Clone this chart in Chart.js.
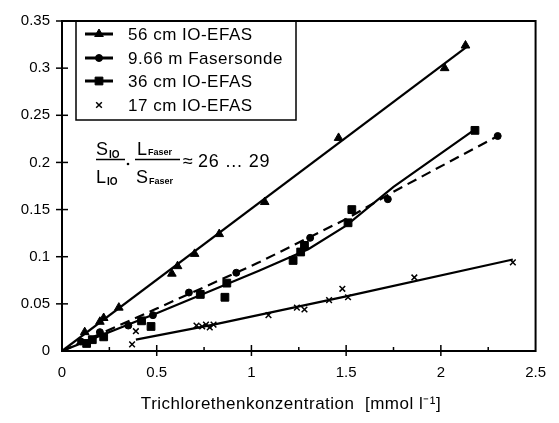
<!DOCTYPE html>
<html>
<head>
<meta charset="utf-8">
<script src="https://cdn.jsdelivr.net/npm/chart.js@4"></script>
<style>
  body { margin: 0; background: #fff; }
  #wrap { width: 559px; height: 423px; }
</style>
</head>
<body>
<div id="wrap"><canvas id="kalib" width="559" height="423"></canvas></div>
<script>
const triX = [0.12, 0.20, 0.22, 0.30, 0.58, 0.61, 0.70, 0.83, 1.07, 1.46, 2.02, 2.13];
const triY = [0.020, 0.031, 0.035, 0.046, 0.082, 0.090, 0.103, 0.124, 0.158, 0.226, 0.300, 0.324];
const triFitX = [0, 2.14];
const triFitY = [0, 0.323];

const circX = [0.10, 0.20, 0.35, 0.48, 0.67, 0.92, 1.28, 1.31, 1.72, 2.30];
const circY = [0.010, 0.020, 0.027, 0.038, 0.062, 0.083, 0.110, 0.120, 0.161, 0.228];
const circFitX = [0, 0.5, 1.04, 1.5, 1.75, 2.30];
const circFitY = [0, 0.045, 0.094, 0.140, 0.169, 0.228];

const sqX = [0.13, 0.16, 0.22, 0.42, 0.47, 0.73, 0.86, 0.87, 1.22, 1.26, 1.28, 1.51, 1.53, 2.18];
const sqY = [0.008, 0.012, 0.015, 0.032, 0.026, 0.060, 0.057, 0.072, 0.096, 0.105, 0.112, 0.136, 0.150, 0.234];
const sqFitX = [0, 0.5, 1.04, 1.3, 1.5, 1.75, 2.18];
const sqFitY = [0, 0.040, 0.085, 0.108, 0.133, 0.174, 0.235];

const crX = [0.37, 0.39, 0.71, 0.74, 0.76, 0.78, 0.80, 1.09, 1.24, 1.28, 1.41, 1.48, 1.51, 1.86, 2.38];
const crY = [0.007, 0.021, 0.027, 0.026, 0.028, 0.025, 0.028, 0.038, 0.046, 0.044, 0.054, 0.066, 0.057, 0.078, 0.094];
const crFitX = [0.39, 0.80, 1.50, 2.38];
const crFitY = [0.012, 0.028, 0.058, 0.097];

const legendLabels = ['56 cm IO-EFAS', '9.66 m Fasersonde', '36 cm IO-EFAS', '17 cm IO-EFAS'];
const xTitle = 'Trichlorethenkonzentration  [mmol l\u207B\u00B9]';

const FONT = '"Liberation Sans", Arial, sans-serif';

function pts(xs, ys) {
    return xs.map(function(x, i) { return { x: x, y: ys[i] }; });
}

function markers(xs, ys, style, r) {
    return {
        data: pts(xs, ys),
        showLine: false,
        pointStyle: style,
        pointRadius: r,
        pointBackgroundColor: '#000',
        pointBorderColor: '#000',
        pointBorderWidth: style === 'crossRot' ? 1.5 : 1
    };
}

function fitLine(xs, ys, dash) {
    return {
        data: pts(xs, ys),
        showLine: true,
        borderColor: '#000',
        borderWidth: 2.2,
        borderDash: dash || [],
        pointRadius: 0,
        tension: 0
    };
}

var legendStyles = [
    { style: 'triangle', r: 5 },
    { style: 'circle', r: 3.5 },
    { style: 'rect', r: 5.5 },
    { style: 'crossRot', r: 4 }
];

// Rahmen, Striche, Legende, Formel, Achsentitel
const decor = {
    id: 'decor',
    afterDraw: function(chart) {
        var ctx = chart.ctx;
        var a = chart.chartArea;
        var xs = chart.scales.x, ys = chart.scales.y;
        ctx.save();
        ctx.strokeStyle = '#000';
        ctx.fillStyle = '#000';

        // Rahmen
        ctx.lineWidth = 2;
        ctx.strokeRect(a.left, a.top, a.right - a.left, a.bottom - a.top);

        // y-Striche
        ctx.lineWidth = 1.5;
        for (var v = 0.05; v < 0.351; v += 0.05) {
            var py = ys.getPixelForValue(v);
            ctx.beginPath();
            ctx.moveTo(a.left - 6, py);
            ctx.lineTo(a.left + 6, py);
            ctx.stroke();
        }
        // x-Striche
        for (var k = 1; k < 10; k++) {
            var xv = k * 0.25;
            var px = xs.getPixelForValue(xv);
            ctx.beginPath();
            if (k % 2 === 0) {
                ctx.moveTo(px, a.bottom + 5);
                ctx.lineTo(px, a.bottom - 6);
            } else {
                ctx.moveTo(px, a.bottom);
                ctx.lineTo(px, a.bottom - 4);
            }
            ctx.stroke();
        }

        // Legende
        ctx.lineWidth = 1.5;
        ctx.strokeRect(76, 21, 220, 99);
        var rows = [34, 58, 81, 105];
        ctx.font = '17px ' + FONT;
        ctx.textBaseline = 'middle';
        ctx.textAlign = 'left';
        try { ctx.letterSpacing = '0.5px'; } catch (e) {}
        for (var i = 0; i < rows.length; i++) {
            var y = rows[i];
            ctx.lineWidth = 3;
            if (i < 3) {
                ctx.beginPath();
                ctx.moveTo(85, y);
                ctx.lineTo(113, y);
                ctx.stroke();
            }
            ctx.lineWidth = legendStyles[i].style === 'crossRot' ? 1.5 : 1;
            Chart.helpers.drawPoint(ctx, {
                pointStyle: legendStyles[i].style,
                radius: legendStyles[i].r,
                borderWidth: ctx.lineWidth
            }, 99, y);
            ctx.fillText(legendLabels[i], 128, y + 1);
        }
        try { ctx.letterSpacing = '0px'; } catch (e) {}

        // Formel
        ctx.textBaseline = 'alphabetic';
        ctx.font = '18px ' + FONT;
        ctx.fillText('S', 96, 155);
        ctx.fillText('L', 96, 183);
        ctx.font = 'bold 10px ' + FONT;
        ctx.fillText('IO', 109, 158);
        ctx.fillText('IO', 107, 185);
        ctx.lineWidth = 1.5;
        ctx.beginPath();
        ctx.moveTo(96, 159.5); ctx.lineTo(125, 159.5);
        ctx.moveTo(135, 159.5); ctx.lineTo(180, 159.5);
        ctx.stroke();
        ctx.beginPath();
        ctx.arc(128, 164, 1.3, 0, Math.PI * 2);
        ctx.fill();
        ctx.font = '18px ' + FONT;
        ctx.fillText('L', 137, 155);
        ctx.fillText('S', 136, 183);
        ctx.font = 'bold 9px ' + FONT;
        ctx.fillText('Faser', 148, 155);
        ctx.fillText('Faser', 149, 184);
        ctx.font = '18px ' + FONT;
        try { ctx.letterSpacing = '0.8px'; } catch (e) {}
        ctx.fillText('\u2248', 183, 167);
        ctx.fillText('26 ... 29', 198, 167);

        // Achsentitel
        try { ctx.letterSpacing = '0.5px'; } catch (e) {}
        ctx.font = '17px ' + FONT;
        ctx.textAlign = 'center';
        ctx.textBaseline = 'middle';
        ctx.fillText(xTitle, 291, 404);
        ctx.restore();
    }
};

function fmtTick(v) {
    return String(Math.round(v * 100) / 100);
}

new Chart(document.getElementById('kalib').getContext('2d'), {
    type: 'scatter',
    data: {
        datasets: [
            markers(triX, triY, 'triangle', 5),
            fitLine(triFitX, triFitY),
            markers(circX, circY, 'circle', 3.5),
            fitLine(circFitX, circFitY, [10, 6]),
            markers(sqX, sqY, 'rect', 5.5),
            fitLine(sqFitX, sqFitY),
            markers(crX, crY, 'crossRot', 4),
            fitLine(crFitX, crFitY)
        ]
    },
    options: {
        responsive: false,
        animation: false,
        layout: { padding: { top: 12, right: 14, left: 0, bottom: 0 } },
        plugins: {
            legend: { display: false },
            tooltip: { enabled: false }
        },
        scales: {
            x: {
                type: 'linear',
                min: 0,
                max: 2.5,
                ticks: { stepSize: 0.5, color: '#000', padding: 13, font: { family: FONT, size: 15 }, callback: fmtTick },
                grid: { display: false, drawTicks: false },
                border: { display: false },
                afterFit: function(scale) { scale.height = 72; }
            },
            y: {
                type: 'linear',
                min: 0,
                max: 0.35,
                ticks: { stepSize: 0.05, color: '#000', padding: 12, font: { family: FONT, size: 15 }, callback: fmtTick },
                grid: { display: false, drawTicks: false },
                border: { display: false },
                afterFit: function(scale) { scale.width = 62; }
            }
        }
    },
    plugins: [decor]
});
</script>
</body>
</html>
